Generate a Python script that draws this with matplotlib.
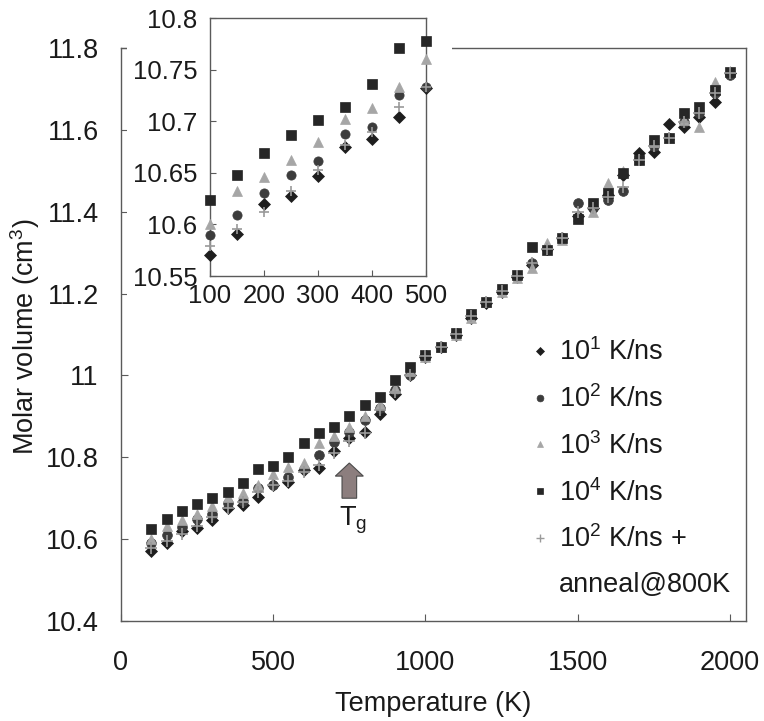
import matplotlib
matplotlib.use("Agg")
import matplotlib.pyplot as plt
from matplotlib.lines import Line2D
from matplotlib.patches import Rectangle

plt.rcParams["font.family"] = ["Liberation Sans", "DejaVu Sans"]

# ── Data ──────────────────────────────────────────────────────────────────
temps = [100, 150, 200, 250, 300, 350, 400, 450, 500, 550, 600, 650, 700,
         750, 800, 850, 900, 950, 1000, 1050, 1100, 1150, 1200, 1250, 1300,
         1350, 1400, 1450, 1500, 1550, 1600, 1650, 1700, 1750, 1800, 1850,
         1900, 1950, 2000]

v_rate1 = [10.570, 10.591, 10.620, 10.628, 10.647, 10.675, 10.683, 10.704,
           10.732, 10.740, 10.769, 10.773, 10.815, 10.846, 10.863, 10.905,
           10.955, 11.000, 11.045, 11.070, 11.100, 11.140, 11.178, 11.205,
           11.240, 11.270, 11.310, 11.335, 11.390, 11.410, 11.440, 11.490,
           11.543, 11.547, 11.614, 11.607, 11.632, 11.669, 11.738]
v_rate2 = [10.590, 10.609, 10.630, 10.648, 10.661, 10.688, 10.694, 10.725,
           10.733, 10.753, 10.772, 10.806, 10.838, 10.862, 10.890, 10.920,
           10.965, 11.000, 11.050, 11.070, 11.104, 11.148, 11.180, 11.206,
           11.243, 11.275, 11.310, 11.336, 11.421, 11.410, 11.429, 11.451,
           11.526, 11.560, 11.580, 11.620, 11.640, 11.690, 11.735]
v_rate3 = [10.600, 10.632, 10.646, 10.662, 10.680, 10.702, 10.713, 10.733,
           10.760, 10.776, 10.785, 10.834, 10.852, 10.875, 10.900, 10.930,
           10.970, 11.010, 11.045, 11.070, 11.100, 11.140, 11.180, 11.205,
           11.237, 11.262, 11.323, 11.330, 11.390, 11.400, 11.470, 11.500,
           11.530, 11.570, 11.580, 11.624, 11.608, 11.718, 11.745]
v_rate4 = [10.624, 10.648, 10.669, 10.687, 10.701, 10.714, 10.736, 10.771,
           10.778, 10.801, 10.836, 10.859, 10.873, 10.901, 10.928, 10.948,
           10.989, 11.020, 11.050, 11.070, 11.104, 11.150, 11.180, 11.210,
           11.245, 11.315, 11.306, 11.336, 11.382, 11.421, 11.446, 11.494,
           11.526, 11.575, 11.580, 11.642, 11.655, 11.697, 11.742]
v_anneal = [10.579, 10.596, 10.612, 10.632, 10.653, 10.677, 10.690, 10.714,
            10.733, 10.742, 10.765, 10.780, 10.810, 10.840, 10.860, 10.915,
            10.960, 11.000, 11.048, 11.070, 11.102, 11.146, 11.180, 11.206,
            11.243, 11.275, 11.310, 11.336, 11.400, 11.410, 11.435, 11.460,
            11.526, 11.560, 11.580, 11.620, 11.640, 11.690, 11.738]

labels = [r"10$^\mathregular{1}$ K/ns", r"10$^\mathregular{2}$ K/ns",
          r"10$^\mathregular{3}$ K/ns", r"10$^\mathregular{4}$ K/ns",
          r"10$^\mathregular{2}$ K/ns +"]

main_xticks = [0, 500, 1000, 1500, 2000]
main_yticks = [10.4, 10.6, 10.8, 11.0, 11.2, 11.4, 11.6, 11.8]
main_yticklabels = ["10.4", "10.6", "10.8", "11", "11.2", "11.4", "11.6", "11.8"]
inset_xticks = [100, 200, 300, 400, 500]
inset_yticks = [10.55, 10.6, 10.65, 10.7, 10.75, 10.8]
inset_yticklabels = ["10.55", "10.6", "10.65", "10.7", "10.75", "10.8"]

tg_temp = 750

# marker, size, color per series
STYLES = [("D", 6.0, "#1e1e1e"),
          ("o", 7.0, "#3c3c3c"),
          ("^", 7.0, "#a6a6a6"),
          ("s", 7.0, "#262626"),
          ("+", 8.0, "#9a9a9a")]
SERIES = [v_rate1, v_rate2, v_rate3, v_rate4, v_anneal]
TXT = "#1a1a1a"
FRAME = "#5a5a5a"
FS = 19.5

# ── Figure ────────────────────────────────────────────────────────────────
fig = plt.figure(figsize=(7.64, 7.21), dpi=100)
ax = fig.add_axes([121/764, 1-621/721, 625/764, 573/721])

for vals, (mk, ms, col) in zip(SERIES, STYLES):
    ax.plot(temps, vals, linestyle="none", marker=mk, ms=ms, color=col,
            mew=1.2 if mk == "+" else 0.5, clip_on=False, zorder=3)

ax.set_xlim(0, 2053)
ax.set_ylim(10.4, 11.8)
ax.set_xticks(main_xticks)
ax.set_yticks(main_yticks)
ax.set_yticklabels(main_yticklabels)
ax.tick_params(direction="in", length=5, width=0.8, color=FRAME,
               labelsize=FS, labelcolor=TXT)
ax.tick_params(axis="x", pad=21)
ax.tick_params(axis="y", pad=16)
for s in ax.spines.values():
    s.set_color(FRAME)
    s.set_linewidth(1.0)

ax.set_xlabel("Temperature (K)", fontsize=FS, color=TXT)
ax.xaxis.set_label_coords(0.5, -0.122)
fig.text(25/764, 1-337/721, r"Molar volume (cm$^\mathregular{3}$)",
         rotation=90, ha="center", va="center", fontsize=FS, color=TXT)

# Tg arrow
ax.arrow(tg_temp, 10.700, 0, 0.086, width=48, head_width=92,
         head_length=0.032, length_includes_head=True,
         fc="#8c7e7e", ec="#4a4a4a", lw=0.8, zorder=4)
ax.text(tg_temp + 12, 10.647, r"T$_\mathregular{g}$", ha="center",
        va="center", fontsize=FS, color=TXT)

# legend; last entry is the second line of the anneal label
handles = [Line2D([], [], linestyle="none", marker=mk, ms=ms*0.7, color=col,
                  mew=1.0 if mk == "+" else 0.5)
           for mk, ms, col in STYLES]
handles.append(Line2D([], [], linestyle="none"))
ax.legend(handles, labels + ["anneal@800K"], loc="upper left",
          bbox_to_anchor=(0.64, 0.512), frameon=False, fontsize=FS,
          handlelength=0.6, handletextpad=0.4, labelspacing=0.7,
          borderaxespad=0, labelcolor=TXT)

# white box behind the inset
fig.add_artist(Rectangle((127/764, 1-318/721), (452-127)/764, 318/721,
                         transform=fig.transFigure, facecolor="white",
                         edgecolor="none", zorder=1))

# ── Inset (100-500 K) ─────────────────────────────────────────────────────
ins = fig.add_axes([210/764, 1-276/721, 216/764, 258/721])
ins.set_zorder(2)
n_in = temps.index(500) + 1
for vals, (mk, ms, col) in zip(SERIES, STYLES):
    ins.plot(temps[:n_in], vals[:n_in], linestyle="none", marker=mk,
             ms=ms*0.95, color=col, mew=1.2 if mk == "+" else 0.5,
             clip_on=False, zorder=3)
ins.set_xlim(100, 500)
ins.set_ylim(10.55, 10.8)
ins.set_xticks(inset_xticks)
ins.set_yticks(inset_yticks)
ins.set_yticklabels(inset_yticklabels)
ins.tick_params(direction="in", length=4, width=0.8, color=FRAME,
                labelsize=18.5, labelcolor=TXT)
ins.tick_params(axis="x", pad=6)
ins.tick_params(axis="y", pad=9)
for s in ins.spines.values():
    s.set_color(FRAME)
    s.set_linewidth(1.0)

fig.savefig("out.png", dpi=100)
